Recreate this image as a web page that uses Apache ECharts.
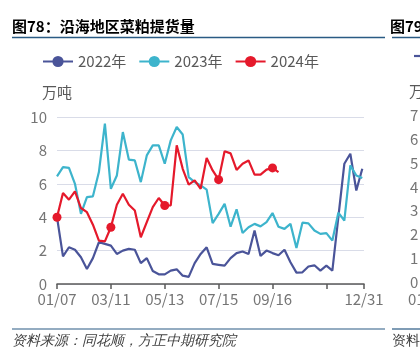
<!DOCTYPE html>
<html><head><meta charset="utf-8">
<script src="https://cdn.jsdelivr.net/npm/echarts@6/dist/echarts.min.js"></script>
<style>html,body{margin:0;padding:0;background:#fff}#c{width:420px;height:355px}</style>
</head><body><div id="c"></div>
<script>
const seriesNames = ['2022年', '2023年', '2024年'];
const v2022 = [4.0,1.65,2.2,2.05,1.6,0.9,1.55,2.5,2.4,2.3,1.8,2.0,2.1,2.05,1.25,1.55,0.78,0.58,0.58,0.8,0.88,0.5,0.43,1.25,1.8,2.2,1.2,1.15,1.1,1.55,1.85,1.95,1.8,3.2,1.68,2.0,1.85,1.72,2.05,1.3,0.68,0.7,1.05,1.12,0.8,1.1,0.8,4.0,7.2,7.8,5.6,6.9];
const v2023 = [6.45,7.0,6.95,6.0,4.2,5.2,5.25,6.7,9.6,5.7,6.5,9.1,7.45,7.4,6.1,7.7,8.3,8.3,7.2,8.6,9.4,8.95,6.4,6.1,5.9,5.65,3.65,4.2,4.8,3.43,4.47,3.05,3.4,3.6,3.45,3.7,4.25,3.43,3.3,3.6,2.15,3.67,3.63,3.2,3.0,3.05,2.6,4.27,3.8,7.1,6.5,6.35];
const v2024 = [4.0,5.45,5.05,5.55,4.55,4.3,3.55,2.6,2.55,3.4,4.75,5.4,4.75,4.4,2.8,3.7,4.6,5.15,4.7,4.7,8.3,6.9,5.95,6.2,5.7,7.55,6.8,6.25,7.95,7.82,6.83,7.2,7.4,6.55,6.55,6.85,6.95,6.7];
const xTickLabels = ['01/07', '03/11', '05/13', '07/15', '09/16', '', '12/31'];
const yUnit = '万吨';
const colors = ['#4A5499', '#3DB4CC', '#E5192B'];
const weekSpan = 359 / 7;   // 01/07 -> 12/31 in weeks
const markerStep = 9;

const toPts = arr => arr.map((v, i) => [i, v]);
const font = 'Noto Sans CJK SC';

const chart = echarts.init(document.getElementById('c'), null, {renderer: 'canvas'});
chart.setOption({
  animation: false,
  textStyle: {fontFamily: font},
  title: {
    text: '图78：沿海地区菜粕提货量',
    left: 12, top: 19, padding: 0,
    textStyle: {fontSize: 15, fontWeight: 'bold', color: '#000', fontFamily: font}
  },
  legend: {
    data: seriesNames,
    left: 37, top: 49,
    itemWidth: 30, itemHeight: 14, itemGap: 12,
    textStyle: {fontSize: 15, color: '#595959', fontFamily: font}
  },
  grid: {left: 57, right: 56, top: 117, bottom: 71, containLabel: false},
  xAxis: {
    type: 'value', min: 0, max: weekSpan, interval: markerStep,
    splitLine: {show: false},
    axisLine: {show: true, lineStyle: {color: '#595959', width: 1.5}},
    axisTick: {show: true, length: 5, lineStyle: {color: '#595959', width: 1.5}},
    axisLabel: {
      showMinLabel: true, showMaxLabel: true, margin: 8,
      fontSize: 15, color: '#757575', fontFamily: font,
      formatter: v => v >= weekSpan - 1e-6 ? xTickLabels[xTickLabels.length - 1] : (xTickLabels[Math.round(v / markerStep)] || '')
    }
  },
  yAxis: {
    type: 'value', min: 0, max: 10, interval: 2,
    name: yUnit, nameLocation: 'end', nameGap: 17,
    nameTextStyle: {fontSize: 15, color: '#595959', fontFamily: font, align: 'center'},
    axisLine: {show: false}, axisTick: {show: false},
    splitLine: {lineStyle: {color: '#D9DCE8', width: 1}},
    axisLabel: {fontSize: 15, color: '#757575', margin: 10, fontFamily: font}
  },
  series: [
    {name: seriesNames[0], type: 'line', data: toPts(v2022), symbol: 'circle', showSymbol: false,
     lineStyle: {width: 2.2, color: colors[0]}, itemStyle: {color: colors[0]}},
    {name: seriesNames[1], type: 'line', data: toPts(v2023), symbol: 'circle', showSymbol: false,
     lineStyle: {width: 2.2, color: colors[1]}, itemStyle: {color: colors[1]}},
    {name: seriesNames[2], type: 'line', symbol: 'circle', symbolSize: 9, showAllSymbol: true,
     data: v2024.map((v, i) => ({value: [i, v], symbol: i % markerStep === 0 ? 'circle' : 'none'})),
     lineStyle: {width: 2.2, color: colors[2]}, itemStyle: {color: colors[2]}}
  ],
  graphic: [
    {type: 'line', shape: {x1: 12, y1: 37.5, x2: 385, y2: 37.5}, style: {stroke: '#2A5B84', lineWidth: 1.5}},
    {type: 'line', shape: {x1: 392, y1: 37.5, x2: 420, y2: 37.5}, style: {stroke: '#2A5B84', lineWidth: 1.5}},
    {type: 'line', shape: {x1: 12, y1: 329, x2: 385, y2: 329}, style: {stroke: '#2A5B84', lineWidth: 1.2}},
    {type: 'line', shape: {x1: 392, y1: 329, x2: 420, y2: 329}, style: {stroke: '#2A5B84', lineWidth: 1.2}},
    {type: 'text', left: 12, top: 334, style: {text: '资料来源：同花顺，方正中期研究院', fontSize: 14, fontStyle: 'italic', fill: '#404040', font: 'italic 14px "Noto Sans CJK SC"'}},
    {type: 'text', left: 392, top: 334, style: {text: '资料来源', fontSize: 14, fill: '#404040', font: 'italic 14px "Noto Sans CJK SC"'}},
    {type: 'text', left: 390, top: 19, style: {text: '图79', fill: '#000', font: 'bold 15px "Noto Sans CJK SC"'}},
    {type: 'line', shape: {x1: 414, y1: 56, x2: 420, y2: 56}, style: {stroke: colors[0], lineWidth: 2.2}},
    {type: 'text', left: 409, top: 84, style: {text: '万吨', fill: '#595959', font: '15px "Noto Sans CJK SC"'}},
    {type: 'group', left: 410, top: 108, children: ['7','6','5','4','3','2','1','0'].map((t, k) => ({
      type: 'text', x: 0, y: k * 23.8, style: {text: t, fill: '#757575', font: '15px "Noto Sans CJK SC"'}}))},
    {type: 'text', left: 408, top: 292, style: {text: '01/07', fill: '#757575', font: '15px "Noto Sans CJK SC"'}}
  ]
});
</script>
</body></html>
